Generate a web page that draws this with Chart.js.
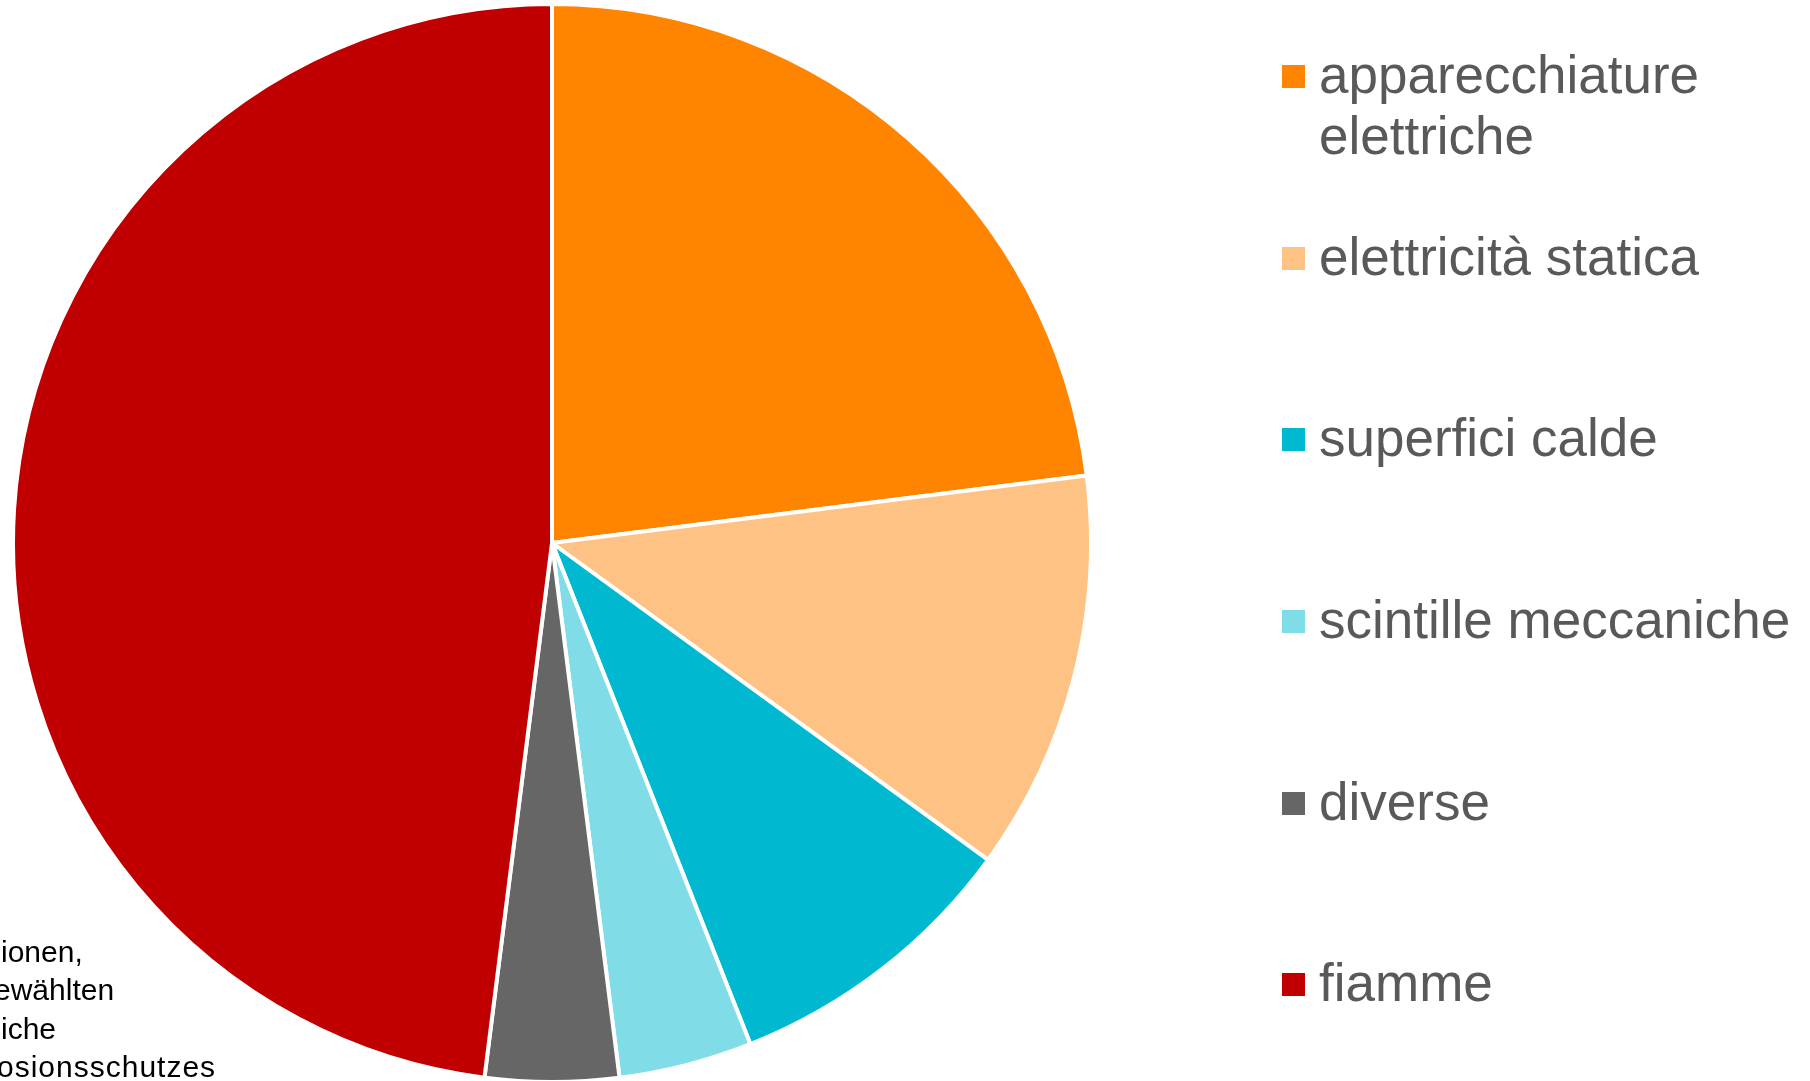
<!DOCTYPE html>
<html lang="it">
<head>
<meta charset="utf-8">
<title>Fonti di innesco</title>
<script src="https://cdn.jsdelivr.net/npm/chart.js@4.4.1/dist/chart.umd.min.js"></script>
<style>
  html, body {
    margin: 0;
    padding: 0;
    background: #fff;
    overflow: hidden;
    width: 1810px;
    height: 1081px;
  }
  #wrap {
    position: absolute;
    left: 11px;
    top: 2px;
    width: 1082px;
    height: 1082px;
  }
  #legend {
    position: absolute;
    left: 1282px;
    top: 44px;
    margin: 0;
    padding: 0;
    list-style: none;
    font-family: "Liberation Sans", Arial, sans-serif;
    font-size: 53px;
    line-height: 61px;
    color: #595959;
  }
  #legend li {
    position: relative;
    height: 181.7px;
  }
  #legend .box {
    position: absolute;
    left: 0;
    top: 21px;
    width: 23px;
    height: 23px;
  }
  #legend .txt {
    position: absolute;
    left: 37px;
    top: 0;
    width: 485px;
  }
  #note {
    position: absolute;
    left: 0;
    top: 933px;
    font-family: "Liberation Sans", Arial, sans-serif;
    font-size: 30px;
    line-height: 38.3px;
    color: #000;
    white-space: pre;
  }
  #note div { position: relative; }
</style>
</head>
<body>
<div id="wrap"><canvas id="chart"></canvas></div>
<ul id="legend"></ul>
<div id="note"></div>
<script>
// fonti di innesco, quota in %
const labels = [
  "apparecchiature elettriche",
  "elettricità statica",
  "superfici calde",
  "scintille meccaniche",
  "diverse",
  "fiamme",
];
const shares = [23, 12, 9, 4, 4, 48];
const colors = ["#ff8400", "#ffc285", "#00b8d0", "#80dde8", "#666666", "#c00000"];

// testo tagliato al margine sinistro (come nell'originale)
const noteLines = ["ionen,", "ewählten", "iche", "osionsschutzes"];
const noteShift = [1, -6, 1, -3];
const noteSpacing = [0, 0, 0, 1];

function buildLegend(chart) {
  const ul = document.getElementById("legend");
  const items = chart.options.plugins.legend.labels.generateLabels(chart);
  items.forEach((item) => {
    const li = document.createElement("li");
    const box = document.createElement("span");
    box.className = "box";
    box.style.background = item.fillStyle;
    const txt = document.createElement("span");
    txt.className = "txt";
    txt.textContent = item.text;
    li.appendChild(box);
    li.appendChild(txt);
    ul.appendChild(li);
  });
}

function buildNote() {
  const note = document.getElementById("note");
  noteLines.forEach((line, i) => {
    const d = document.createElement("div");
    d.style.left = noteShift[i] + "px";
    d.style.letterSpacing = noteSpacing[i] + "px";
    d.textContent = line;
    note.appendChild(d);
  });
}

const chart = new Chart(document.getElementById("chart"), {
  type: "pie",
  data: {
    labels: labels,
    datasets: [{
      data: shares,
      backgroundColor: colors,
      borderColor: "#ffffff",
      borderWidth: 4,
      hoverOffset: 0,
      offset: 0,
    }],
  },
  options: {
    responsive: true,
    maintainAspectRatio: false,
    animation: false,
    layout: { padding: 0 },
    plugins: {
      legend: { display: false },
      tooltip: { enabled: false },
    },
  },
});

buildLegend(chart);
buildNote();
</script>
</body>
</html>
